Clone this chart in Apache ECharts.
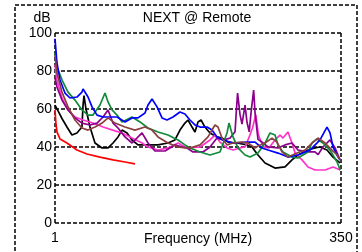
<!DOCTYPE html>
<html><head><meta charset="utf-8">
<script src="https://cdn.jsdelivr.net/npm/echarts@6/dist/echarts.min.js"></script>
<style>html,body{margin:0;padding:0;background:#fff}#c{width:362px;height:252px}</style>
</head><body><div id="c"></div>
<script>
const titleText = 'NEXT @ Remote';
const yName = 'dB';
const xName = 'Frequency (MHz)';
const yTicks = [0, 20, 40, 60, 80, 100];
const xTicks = [1, 350];

const blue = [[1,97],[3.4,84.2],[7.1,75.3],[13.2,68.4],[19.3,65.8],[27.8,66.3],[33.9,68.9],[35.2,70.5],[41.3,66.3],[46.2,61.1],[52.3,56.8],[59.6,55.8],[76.7,55.8],[86.4,53.2],[95,55.3],[102.3,55.3],[110.8,57.9],[114.5,62.1],[119.4,65.3],[125.5,61.1],[131.6,55.3],[137.7,54.2],[145,55.8],[153.5,58.4],[159.6,57.4],[165.7,54.2],[171.8,51.6],[178,50.5],[186.5,50.5],[192.6,48.9],[198.7,45.3],[206,43.7],[218.2,42.1],[235.3,42.6],[245.1,42.6],[253.6,39.5],[260.9,38.4],[273.1,36.8],[285.3,34.7],[297.5,35.8],[312.2,38.4],[324.4,43.7],[332.9,50.5],[336.6,47.4],[340.3,40],[346.4,34.7],[349,33.2]];
const green = [[1,89.5],[3.4,82.1],[9.5,75.3],[16.9,68.9],[25.4,64.7],[33.9,59.5],[41.3,56.8],[47.4,56.8],[55.9,62.1],[62,68.4],[65.7,63.7],[70.6,59.5],[76.7,56.8],[82.8,53.2],[95,55.8],[104.7,53.2],[114.5,50],[126.7,47.9],[138.9,46.3],[151.1,43.7],[159.6,41.1],[165.7,39.5],[178,37.4],[190.1,35.8],[202.3,37.4],[210.9,47.4],[213.3,52.6],[218.2,45.3],[224.3,39.5],[232.9,35.8],[239,34.7],[248.7,36.8],[257.3,42.1],[263.4,47.4],[269.5,46.3],[273.1,41.1],[279.2,37.4],[290.2,34.7],[297.5,34.2],[309.7,37.4],[314.6,42.1],[320.7,44.2],[328,42.1],[336.6,38.4],[345.2,32.1],[349,27.9]];
const black = [[1,62],[3.4,63],[6,58],[9.5,55],[15.6,50.5],[21.7,46.3],[27.8,47.4],[33.9,50.5],[35.2,62],[36.4,67],[38.8,60],[43.7,50.5],[49.8,42.1],[58.4,39.5],[65.7,39.5],[71.8,42.1],[77.9,45.3],[82.8,48.9],[88.9,47.4],[95,43.7],[102.3,41.1],[114.5,41.1],[126.7,41.1],[138.9,42.1],[147.4,43.7],[153.5,48.9],[159.6,52.6],[163.3,54.2],[168.2,50.5],[171.8,47.9],[175.5,53.2],[179.2,54.2],[184,50.5],[190.1,47.4],[198.7,45.3],[204.8,44.7],[212.1,42.6],[223.1,42.1],[235.3,41.1],[241.4,40],[248.7,35.8],[257.3,31.6],[269.5,28.9],[281.7,29.5],[290.2,33.2],[297.5,35.8],[309.7,38.4],[318.3,39.5],[324.4,40],[332.9,38.4],[340.3,34.7],[348.8,31.6]];
const purple = [[1,76.3],[3.4,71.6],[9.5,64.7],[16.9,59.5],[25.4,55.3],[33.9,52.6],[43.7,51.6],[52.3,52.6],[59.6,55.8],[65.7,59.5],[71.8,52.6],[77.9,50],[86.4,45.3],[95,42.1],[107.2,47.4],[114.5,42.1],[123,37.9],[135.2,37.9],[147.4,41.1],[156,40],[162.1,39.5],[169.4,37.4],[181.6,37.4],[190.1,40],[198.7,44.7],[206,43.7],[214.6,44.7],[220.7,48],[222,57],[223.8,68.4],[226.8,57],[229.2,52],[232.9,62],[235.3,53],[238,48],[240.2,58],[243.4,70],[245.1,58],[248.7,44],[253.6,42.6],[260.9,40],[273.1,39.5],[281.7,41.1],[290.2,42.1],[297.5,38.4],[309.7,37.4],[318.3,37.4],[322,36],[328,40],[336.6,43.7],[342.7,39.5],[348.8,33.2]];
const pink = [[1,83.2],[3.4,75.3],[9.5,65.8],[16.9,59.5],[25.4,55.8],[35.2,54.2],[47.4,52.6],[59.6,50.5],[74.2,48.5],[82.8,47.4],[95,44.7],[107.2,42.1],[114.5,40],[126.7,38.4],[138.9,39.5],[151.1,42.1],[159.6,40],[165.7,39.5],[178,40],[190.1,43.7],[196.2,46.3],[202.3,42.6],[210.9,39.5],[218.2,38.4],[226.8,39.5],[232.9,40],[238,45.3],[242,50],[246,57],[249,47],[252,43],[256,40],[262,39.5],[269.5,43.7],[275.6,46.3],[279.2,44.7],[285.3,47.9],[290.2,42.1],[293.9,36.8],[302.4,33.2],[309.7,29.5],[318.3,27.9],[330.5,27.9],[340.3,29.5],[346.4,28.4],[349,27.9]];
const brown = [[1,88.4],[3.4,78.9],[9.5,68.9],[16.9,61.1],[25.4,54.2],[33.9,50],[41.3,48.9],[49.8,50.5],[58.4,52.6],[65.7,55.3],[74.2,52.6],[86.4,50.5],[98.6,48.9],[110.8,50.5],[119.4,48.9],[126.7,45.3],[138.9,42.1],[151.1,40],[159.6,39.5],[165.7,39.5],[178,41.1],[187.7,45.3],[196.2,51.6],[199.9,50.5],[204.8,44.7],[210.9,41.1],[218.2,42.1],[229.2,42.6],[236.5,42.1],[245.1,39.5],[248.7,40.5],[257.3,42.1],[265.8,44.7],[271.9,42.6],[278,37.4],[285.3,34.7],[296.3,36.8],[306.1,38.4],[315.8,42.6],[321.9,44.7],[330.5,42.1],[339,38.4],[345.2,35.8],[349,33.2]];
const red = [[1,59.5],[2.2,52],[3.4,48],[7.1,44.2],[15.6,42.1],[27.8,38.4],[40,36.3],[55.9,34.7],[71.8,33.2],[86.4,32.1],[98.6,31.1]];

const seriesList = [
  {name:'red', data:red, color:'#ff0000'},
  {name:'black', data:black, color:'#000000'},
  {name:'pink', data:pink, color:'#ff33cc'},
  {name:'purple', data:purple, color:'#8b008b'},
  {name:'green', data:green, color:'#118a3a'},
  {name:'blue', data:blue, color:'#0000ff'},
  {name:'brown', data:brown, color:'#8b4040'}
];

const chart = echarts.init(document.getElementById('c'), null, {renderer:'canvas'});
const font = "'Liberation Sans', Arial, sans-serif";
const dash = {color:'#000', width:1.5, type:[4,2]};
chart.setOption({
  animation:false,
  textStyle:{fontFamily:font},
  grid:{left:55, right:21, top:33, bottom:29, containLabel:false, outerBoundsMode:'none'},
  graphic:[
    {type:'rect', shape:{x:15, y:5, width:342, height:270}, style:{fill:null, stroke:'#000', lineWidth:1.5, lineDash:[4,2]}, silent:true, z:-1},
    {type:'text', style:{text:titleText, x:197, y:18, align:'center', verticalAlign:'middle', font:"14px 'Liberation Sans', Arial, sans-serif", fill:'#000'}},
    {type:'text', style:{text:yName, x:42, y:18, align:'center', verticalAlign:'middle', font:"14px 'Liberation Sans', Arial, sans-serif", fill:'#000'}}
  ],
  xAxis:{type:'value', min:xTicks[0], max:xTicks[1], interval:xTicks[1]-xTicks[0],
    name:xName, nameLocation:'middle', nameGap:9, nameMoveOverlap:false,
    nameTextStyle:{fontSize:14, color:'#000', verticalAlign:'top', fontFamily:font},
    axisLine:{show:false}, axisTick:{show:false},
    axisLabel:{fontSize:14, color:'#000', margin:8, fontFamily:font},
    splitLine:{show:true, lineStyle:dash}},
  yAxis:{type:'value', min:yTicks[0], max:yTicks[yTicks.length-1], interval:yTicks[1]-yTicks[0],
    axisLine:{show:false}, axisTick:{show:false},
    axisLabel:{fontSize:14, color:'#000', margin:3, fontFamily:font},
    splitLine:{show:true, lineStyle:dash}},
  series: seriesList.map(s=>({type:'line', name:s.name, data:s.data, showSymbol:false, symbol:'none',
    lineStyle:{color:s.color, width:1.7}, itemStyle:{color:s.color}, clip:true}))
});
</script></body></html>
